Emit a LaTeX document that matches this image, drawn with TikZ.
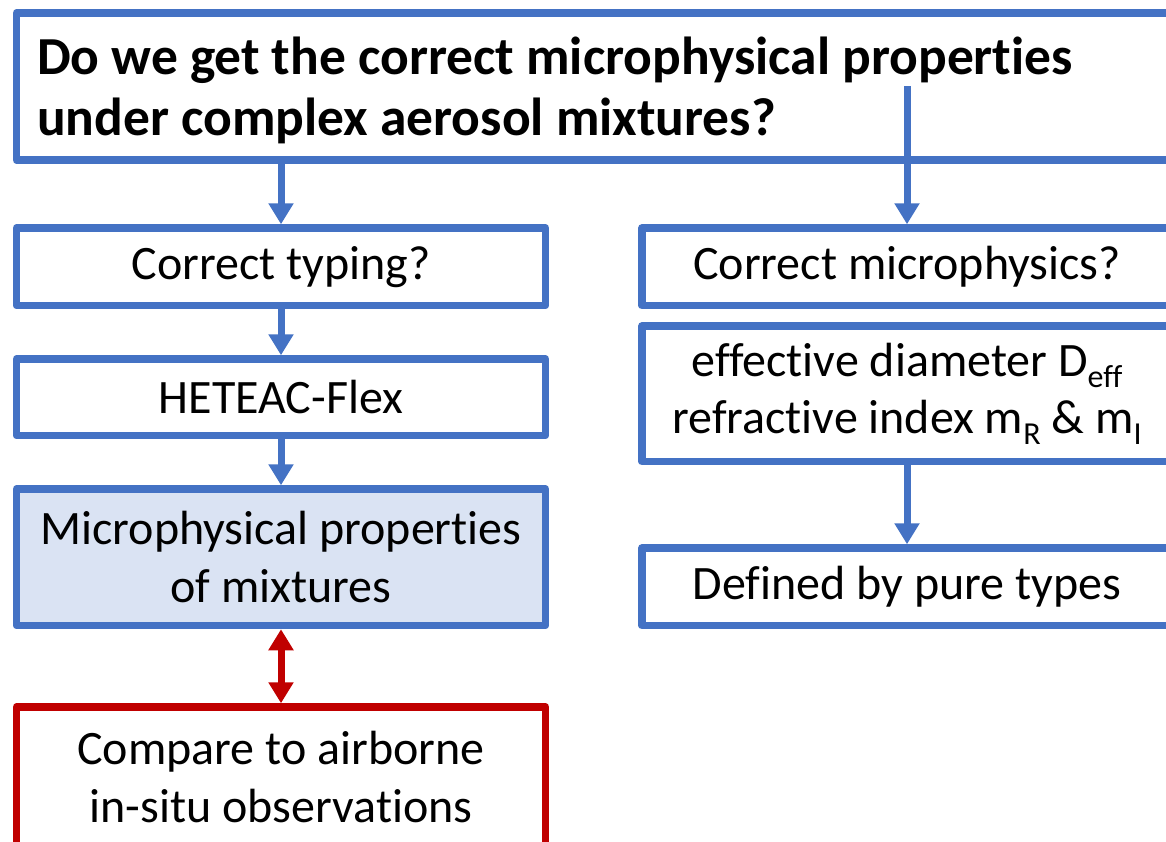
\documentclass[tikz,border=0pt]{standalone}
\usepackage{fontspec}
\setmainfont{Carlito}[Ligatures={NoCommon}]
\usetikzlibrary{arrows.meta}
\definecolor{boxblue}{HTML}{4472C4}
\definecolor{boxred}{HTML}{C00000}
\definecolor{boxfill}{HTML}{DAE3F3}
\newcommand\sbs[1]{\raisebox{-11pt}{\fontsize{32}{32}\selectfont #1}}
\begin{document}
\begin{tikzpicture}[x=1pt,y=-1pt,
  box/.style={draw=boxblue, line width=7.5pt, line join=round, rectangle, inner sep=0pt,
    align=center, font=\fontsize{48}{57.6}\selectfont, text=black},
  redbox/.style={box, draw=boxred},
  arr/.style={draw=boxblue, line width=7pt, -{Triangle[width=24pt,length=21pt]}},
  redarr/.style={draw=boxred, line width=7pt, {Triangle[width=24pt,length=21pt]}-{Triangle[width=24pt,length=21pt]}}]
\useasboundingbox (0,0) rectangle (1166,841);
\clip (0,0) rectangle (1166,841);
\fill[white] (0,0) rectangle (1166,841);
% top question box
\node[box, minimum width=1155.5pt, minimum height=147pt, inner xsep=20.5pt,
  text width=1114.5pt, align=flush left, font=\bfseries\fontsize{53.5}{61}\selectfont]
  (top) at (594.25,86.5) {\rule{0pt}{51pt}Do we get the correct microphysical properties\\under complex aerosol mixtures?\rule[-15pt]{0pt}{15pt}};
% left column
\node[box, minimum width=529pt, minimum height=77.5pt] (typing) at (281,266.75) {Correct typing?};
\node[box, minimum width=529pt, minimum height=76.5pt] (heteac) at (281,397.25) {HETEAC-Flex};
\node[box, fill=boxfill, minimum width=529pt, minimum height=136.5pt] (micro) at (281,557.25) {Microphysical properties\\of mixtures};
\node[redbox, minimum width=529pt, minimum height=140pt] (comp) at (281,777) {Compare to airborne\\in-situ observations};
% right column
\node[box, minimum width=530pt, minimum height=77.5pt] (cmicro) at (907,266.75) {Correct microphysics?};
\node[box, minimum width=530pt, minimum height=135.5pt] (eff) at (907,393.75) {effective diameter D\sbs{eff}\\refractive index m\sbs{R} \& m\sbs{I}};
\node[box, minimum width=530pt, minimum height=77.5pt] (defined) at (907,586.75) {Defined by pure types};
% connectors
\coordinate (rstart) at (907,86);
\draw[arr] (typing.north |- top.south) -- (typing.north);
\draw[arr] (rstart) -- (cmicro.north);
\draw[arr] (typing.south) -- (heteac.north);
\draw[arr] (heteac.south) -- (micro.north);
\draw[redarr] (micro.south) -- (comp.north);
\draw[arr] (eff.south) -- (defined.north);
\end{tikzpicture}
\end{document}
